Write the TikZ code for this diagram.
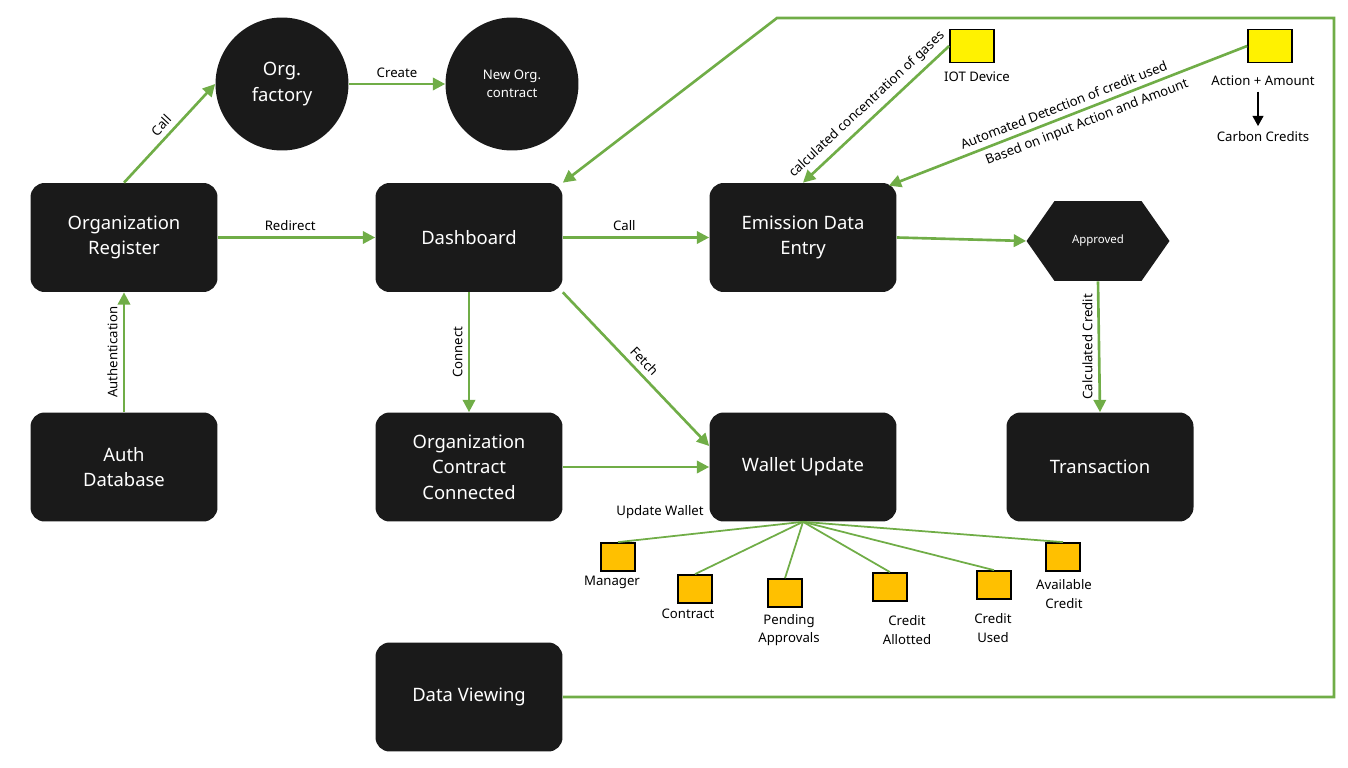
\documentclass[tikz,border=0pt]{standalone}
\usepackage{fontspec}
\setmainfont{Noto Sans}
\usetikzlibrary{arrows.meta,shapes.symbols}
\definecolor{flowgreen}{HTML}{70AD47}
\definecolor{boxblack}{HTML}{1A1A1A}
\definecolor{tagorange}{HTML}{FFC000}

\begin{document}
\begin{tikzpicture}[x=0.02cm,y=-0.02cm,
        box/.style={fill=boxblack,text=white,rounded corners=8pt,inner sep=0pt,
            minimum width=3.74cm,minimum height=2.18cm,align=center,font=\fontsize{10.5}{14.6}\selectfont},
        circ/.style={circle,fill=boxblack,text=white,inner sep=0pt,minimum size=2.66cm,align=center},
        hexa/.style={signal,signal to=east and west,signal pointer angle=110,fill=boxblack,
            text=white,inner sep=0pt,minimum width=2.86cm,minimum height=1.6cm,font=\fontsize{6.5}{8}\selectfont},
        lbl/.style={font=\fontsize{7.5}{10.6}\selectfont,align=center,inner sep=3pt},
        flow/.style={draw=flowgreen,line width=1.5pt,-{Triangle[length=7pt,width=7pt]}},
        fan/.style={draw=flowgreen,line width=1pt},
        tag/.style={draw=black,line width=1pt,fill=tagorange,inner sep=0pt,minimum width=0.68cm,minimum height=0.56cm},
        sensor/.style={draw=black,line width=1pt,fill=yellow,inner sep=0pt,minimum width=0.88cm,minimum height=0.66cm}]
    \useasboundingbox (0,0) rectangle (1348,767);

    % boxes
    \node[box] (reg)  at (124,237.5)  {Organization\\Register};
    \node[box] (auth) at (124,467)    {Auth\\Database};
    \node[box] (dash) at (469,237.5)  {Dashboard};
    \node[box] (occ)  at (469,467)    {Organization\\Contract\\Connected};
    \node[box] (dv)   at (469,697)    {Data Viewing};
    \node[box] (emi)  at (803,237.5)  {Emission Data\\Entry};
    \node[box] (wal)  at (803,467)    {Wallet Update};
    \node[box] (tra)  at (1100,467)   {Transaction};
    \node[circ,font=\fontsize{10.5}{14.6}\selectfont] (fac) at (282,84) {Org.\\factory};
    \node[circ,font=\fontsize{7.5}{10}\selectfont]  (noc) at (512,84) {New Org.\\contract};
    \node[hexa] (appr) at (1098,241) {Approved};

    % inputs
    \node[sensor] (iot) at (972,46) {};
    \node[sensor] (amt) at (1270,46) {};
    \node[lbl] (iotl) at (977,77)  {IOT Device};
    \node[lbl] (amtl) at (1263,81) {Action + Amount};
    \node[lbl] (ccl)  at (1263,137) {Carbon Credits};

    % wallet items
    \node[tag] (mgr) at (618,557) {};
    \node[tag] (con) at (695,589) {};
    \node[tag] (pen) at (785,593) {};
    \node[tag] (cal) at (890,587) {};
    \node[tag] (cus) at (994,585) {};
    \node[tag] (avl) at (1063,557) {};
    \node[lbl] (mgrl) at (612,582) {Manager};
    \node[lbl] (conl) at (688,614) {Contract};
    \node[lbl] (penl) at (789,630) {Pending\\Approvals};
    \node[lbl] (call) at (907,630) {Credit\\Allotted};
    \node[lbl] (cusl) at (993,628) {Credit\\Used};
    \node[lbl] (avll) at (1064,594) {Available\\Credit};
    \node[lbl] (updw) at (660,512) {Update Wallet};

    \coordinate (c1) at (1334,697);
    \coordinate (c2) at (1334,18);
    \coordinate (c3) at (777,18);

    \draw[flow] (reg.north) -- node[lbl,above,sloped] {Call} (fac.west);
    \draw[flow] (fac.east) -- node[lbl,above] {Create} (noc.west);
    \draw[flow] (reg.east) -- node[lbl,above,pos=0.46] {Redirect} (dash.west);
    \draw[flow] (auth.north) -- node[lbl,above,rotate=90] {Authentication} (reg.south);
    \draw[flow] (dash.east) -- node[lbl,above,pos=0.42] {Call} (emi.west);
    \draw[flow] (dash.south) -- node[lbl,above,rotate=90] {Connect} (occ.north);
    \draw[flow] (dash.south east) -- node[lbl,above,sloped] {Fetch} ([yshift=0.42cm]wal.west);
    \draw[flow] (occ.east) -- (wal.west);
    \draw[flow] (emi.east) -- (appr.west);
    \draw[flow] (appr.south) -- node[lbl,above,rotate=90] {Calculated Credit} (tra.north);
    \draw[flow] (iot.west) -- node[lbl,above,sloped] {calculated concentration of gases} (emi.north);
    \draw[flow] (amt.west) -- node[lbl,above,sloped,pos=0.5] {Automated Detection of credit used}
        node[lbl,below,sloped,pos=0.46] {Based on input Action and Amount} ([xshift=-0.16cm,yshift=-0.06cm]emi.north east);
    \draw[flow] (dv.east) -- (c1) -- (c2) -- (c3) -- (dash.north east);
    \draw[line width=1.5pt,-{Triangle[length=6pt,width=6pt]}] ([xshift=-0.1cm]amtl.south) -- ([xshift=-0.1cm]ccl.north);

    \foreach \t in {mgr,con,pen,cal,cus,avl}
        \draw[fan] (wal.south) -- (\t.north);
\end{tikzpicture}
\end{document}
